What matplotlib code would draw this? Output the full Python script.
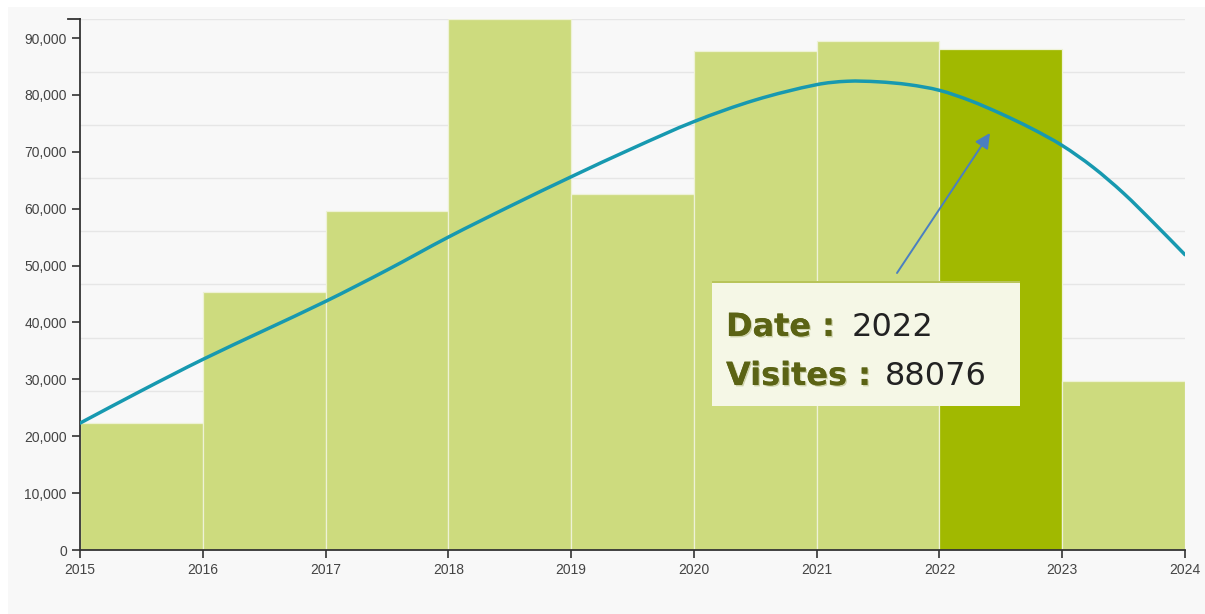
import matplotlib
matplotlib.use("Agg")
import matplotlib.pyplot as plt
from matplotlib.patches import Rectangle
from matplotlib.path import Path
from matplotlib.patches import PathPatch
from matplotlib.ticker import FuncFormatter
import matplotlib.patheffects as pe

# ---- data ----
years = [2015, 2016, 2017, 2018, 2019, 2020, 2021, 2022, 2023]
visits = [22320, 45300, 59600, 93340, 62600, 87700, 89500, 88076, 29700]
highlight_year = 2022

# trend curve
trend_x = [2015, 2015.5, 2016, 2016.5, 2017, 2017.5, 2018, 2018.5, 2019, 2019.5,
           2020, 2020.5, 2021, 2021.25, 2021.5, 2021.75, 2022, 2022.25, 2022.5,
           2022.75, 2023, 2023.25, 2023.5, 2023.75, 2024]
trend_y = [22300, 28000, 33500, 38600, 43700, 49200, 55000, 60400, 65600, 70600,
           75300, 79100, 81800, 82400, 82300, 81800, 80800, 79000, 76700,
           74100, 71100, 67300, 62700, 57400, 51900]

yticks = [0, 10000, 20000, 30000, 40000, 50000, 60000, 70000, 80000, 90000]
xticks = [2015, 2016, 2017, 2018, 2019, 2020, 2021, 2022, 2023, 2024]

tip_label1, tip_value1 = "Date :", "2022"
tip_label2, tip_value2 = "Visites :", "88076"

# ---- figure ----
W, H = 1205, 614
fig = plt.figure(figsize=(W / 100, H / 100), dpi=100)
fig.patch.set_facecolor("white")
fig.patches.append(Rectangle((8 / W, 0), 1 - 8 / W, 1 - 7 / H, transform=fig.transFigure,
                             facecolor="#f8f8f8", edgecolor="none", zorder=-10))

ax = fig.add_axes([80 / W, 1 - 550 / H, (1185 - 80) / W, (550 - 19) / H])
ax.set_facecolor("none")
ymax = max(visits)
ax.set_xlim(2015, 2024)
ax.set_ylim(0, ymax)

# grid lines (10 equal divisions of axis height)
for i in range(1, 11):
    ax.axhline(ymax * i / 10, color="#e6e6e6", lw=1, zorder=0)

colors = ["#a1b900" if y == highlight_year else "#cddb7e" for y in years]
ax.bar(years, visits, width=1, align="edge", color=colors, edgecolor="#eef2d6",
       linewidth=0.9, zorder=2)

# smooth curve through read points (Catmull-Rom rendered as cubic Beziers)
pts = list(zip(trend_x, trend_y))
verts = [pts[0]]
codes = [Path.MOVETO]
for i in range(len(pts) - 1):
    p0 = pts[i - 1] if i > 0 else pts[i]
    p1 = pts[i]
    p2 = pts[i + 1]
    p3 = pts[i + 2] if i + 2 < len(pts) else pts[i + 1]
    d1 = (p2[0] - p0[0])
    d2 = (p3[0] - p1[0])
    h = p2[0] - p1[0]
    c1 = (p1[0] + h / 3, p1[1] + (p2[1] - p0[1]) / d1 * h / 3)
    c2 = (p2[0] - h / 3, p2[1] - (p3[1] - p1[1]) / d2 * h / 3)
    verts += [c1, c2, p2]
    codes += [Path.CURVE4] * 3
ax.add_patch(PathPatch(Path(verts, codes), facecolor="none", edgecolor="#1799b0",
                       lw=2.5, zorder=4, capstyle="round"))

# axes styling
for s in ["top", "right"]:
    ax.spines[s].set_visible(False)
for s in ["left", "bottom"]:
    ax.spines[s].set_color("#333333")
    ax.spines[s].set_linewidth(1.3)
ax.set_yticks(yticks)
ax.set_xticks(xticks)
ax.yaxis.set_major_formatter(FuncFormatter(lambda v, p: f"{int(v):,}"))
ax.tick_params(axis="both", length=6, width=1.2, color="#333333",
               labelcolor="#444444", labelsize=10)
for lab in ax.get_xticklabels() + ax.get_yticklabels():
    lab.set_fontfamily("Liberation Sans")
ax.tick_params(axis="x", pad=3)
# outer tick at the top of the y domain
ax.plot([2015 - 0.1, 2015], [ymax, ymax], color="#333333", lw=1.3, clip_on=False, zorder=5)

# ---- tooltip ----
fig.patches.append(Rectangle((712 / W, 1 - 406 / H), (1020 - 712) / W, (406 - 282) / H,
                             transform=fig.transFigure, facecolor="#f5f7e6",
                             edgecolor="none", zorder=10))
fig.patches.append(Rectangle((712 / W, 1 - 283 / H), (1020 - 712) / W, 2 / H,
                             transform=fig.transFigure, facecolor="#b8c45a",
                             edgecolor="none", zorder=10))
shadow = [pe.withSimplePatchShadow(offset=(1.0, -1.0), shadow_rgbFace="#a8ae70", alpha=0.5), pe.Normal()]
lab_kw = dict(fontsize=23, fontweight="bold", color="#5b6314", family="DejaVu Sans",
              zorder=11, va="baseline", ha="left")
val_kw = dict(fontsize=23, color="#222222", family="DejaVu Sans", zorder=11,
              va="baseline", ha="left")
t1 = fig.text(726 / W, 1 - 336 / H, tip_label1, **lab_kw)
t1.set_path_effects(shadow)
fig.text(852 / W, 1 - 336 / H, tip_value1, **val_kw)
t2 = fig.text(726 / W, 1 - 385 / H, tip_label2, **lab_kw)
t2.set_path_effects(shadow)
fig.text(885 / W, 1 - 385 / H, tip_value2, **val_kw)

ax.annotate("", xy=(990, H - 133), xycoords="figure pixels",
            xytext=(897, H - 273), textcoords="figure pixels",
            arrowprops=dict(arrowstyle="-|>,head_length=0.9,head_width=0.45",
                            color="#4a7fc1", lw=1.4, shrinkA=0, shrinkB=0),
            zorder=12)

fig.savefig("out.png", dpi=100)
